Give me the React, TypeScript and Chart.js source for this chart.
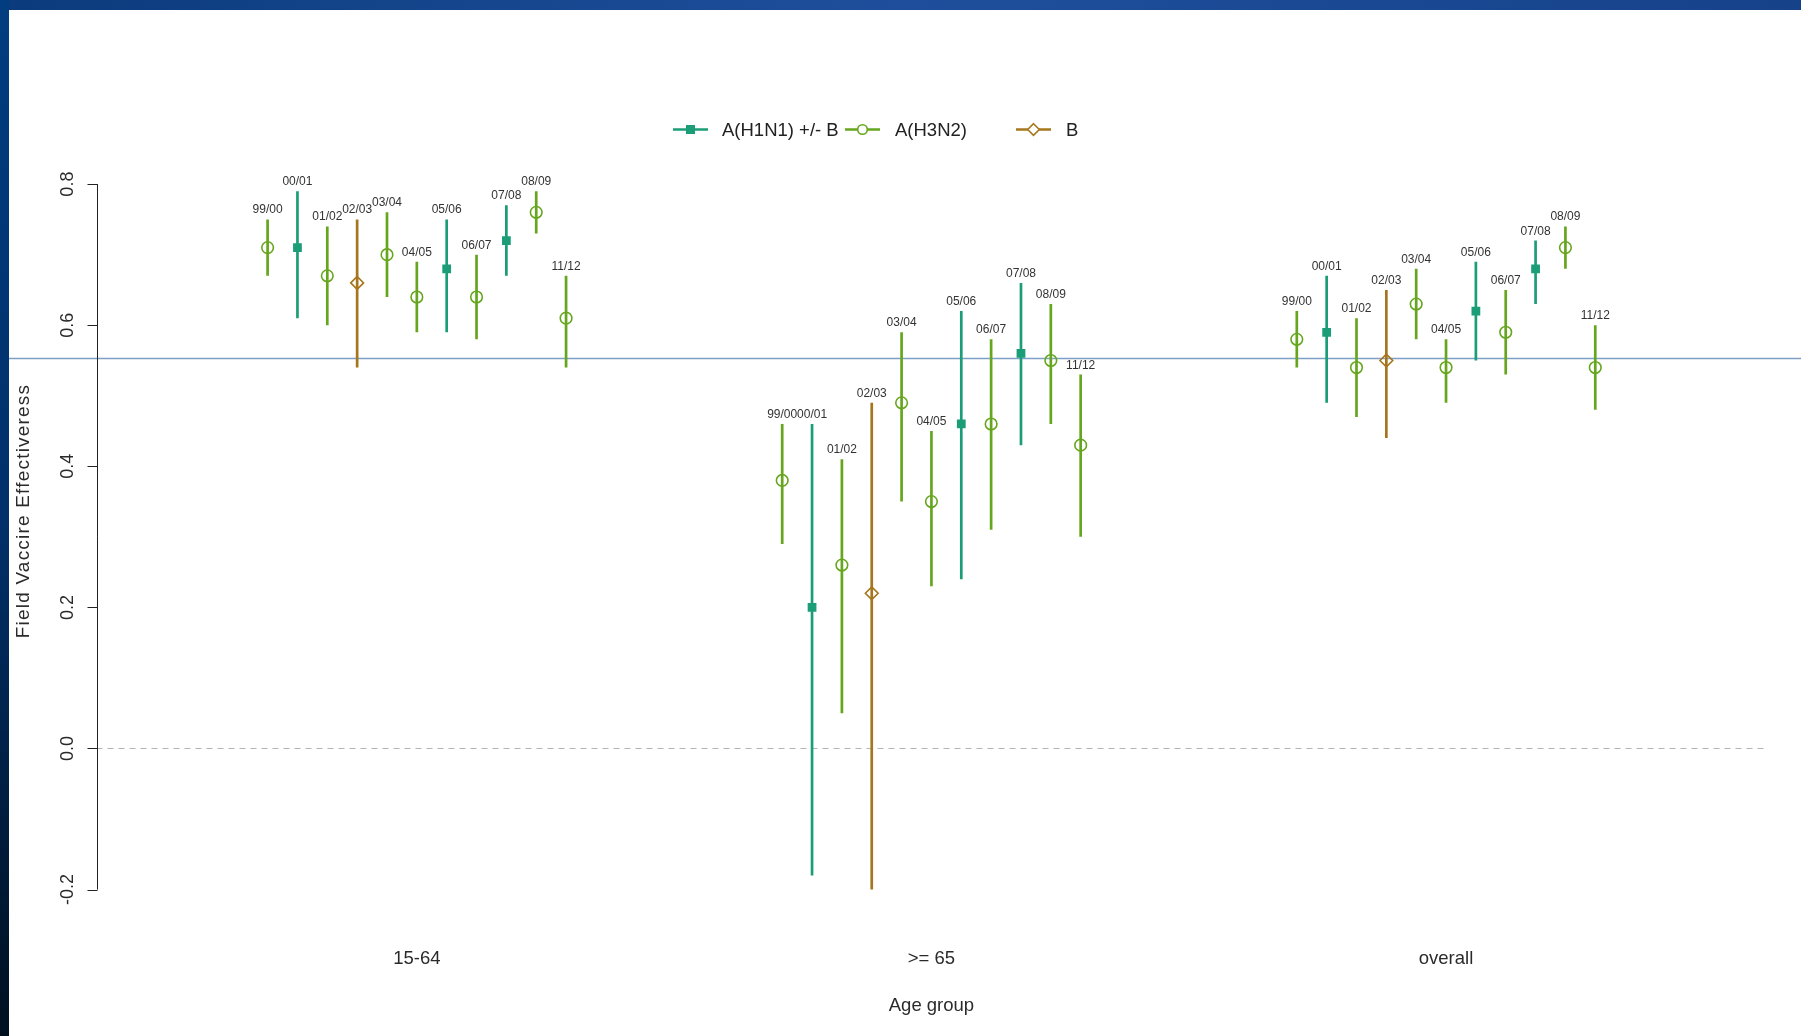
import React, { useEffect, useRef } from 'react';
import { Chart, registerables } from 'chart.js';

Chart.register(...registerables);

// ---------- data ----------
const ageGroups = ['15-64', '>= 65', 'overall'];
const seasons = ['99/00', '00/01', '01/02', '02/03', '03/04', '04/05', '05/06', '06/07', '07/08', '08/09', '11/12'];
const seasonSubtype = ['H3N2', 'H1N1', 'H3N2', 'B', 'H3N2', 'H3N2', 'H1N1', 'H3N2', 'H1N1', 'H3N2', 'H3N2'];

const est15to64 = [0.71, 0.71, 0.67, 0.66, 0.70, 0.64, 0.68, 0.64, 0.72, 0.76, 0.61];
const lo15to64 = [0.67, 0.61, 0.60, 0.54, 0.64, 0.59, 0.59, 0.58, 0.67, 0.73, 0.54];
const hi15to64 = [0.75, 0.79, 0.74, 0.75, 0.76, 0.69, 0.75, 0.70, 0.77, 0.79, 0.67];

const est65plus = [0.38, 0.20, 0.26, 0.22, 0.49, 0.35, 0.46, 0.46, 0.56, 0.55, 0.43];
const lo65plus = [0.29, -0.18, 0.05, -0.20, 0.35, 0.23, 0.24, 0.31, 0.43, 0.46, 0.30];
const hi65plus = [0.46, 0.46, 0.41, 0.49, 0.59, 0.45, 0.62, 0.58, 0.66, 0.63, 0.53];

const estOverall = [0.58, 0.59, 0.54, 0.55, 0.63, 0.54, 0.62, 0.59, 0.68, 0.71, 0.54];
const loOverall = [0.54, 0.49, 0.47, 0.44, 0.58, 0.49, 0.55, 0.53, 0.63, 0.68, 0.48];
const hiOverall = [0.62, 0.67, 0.61, 0.65, 0.68, 0.58, 0.69, 0.65, 0.72, 0.74, 0.60];

const subtypeKeys = ['H1N1', 'H3N2', 'B'];
const subtypeNames = ['A(H1N1) +/- B', 'A(H3N2)', 'B'];
const subtypeColors = ['#1B9E77', '#66A61E', '#A6761D'];

const yTicks = [-0.2, 0.0, 0.2, 0.4, 0.6, 0.8];
const referenceLevel = 0.553;

const yTitle = 'Field Vaccire Effectiveress';
const xTitle = 'Age group';

// ---------- helpers ----------
const estimates = [est15to64, est65plus, estOverall];
const lows = [lo15to64, lo65plus, loOverall];
const highs = [hi15to64, hi65plus, hiOverall];
const seasonStep = 0.058;

const FONT = '"Liberation Sans", Arial, Helvetica, sans-serif';

type Pt = { x: number; y: number | null };

function buildDatasets() {
  const markers: any[] = [];
  const whiskers: any[] = [];
  subtypeKeys.forEach((key, si) => {
    const pts: Pt[] = [];
    const seg: Pt[] = [];
    ageGroups.forEach((_, gi) => {
      seasons.forEach((s, k) => {
        if (seasonSubtype[k] !== key) return;
        const x = gi + (k - 5) * seasonStep;
        pts.push({ x, y: estimates[gi][k] });
        seg.push({ x, y: lows[gi][k] });
        seg.push({ x, y: highs[gi][k] });
        seg.push({ x, y: null });
      });
    });
    const style = key === 'H1N1' ? 'rect' : key === 'H3N2' ? 'circle' : 'rectRot';
    markers.push({
      type: 'scatter',
      label: subtypeNames[si],
      data: pts,
      order: 0,
      pointStyle: style,
      pointRadius: key === 'H1N1' ? 6.2 : key === 'H3N2' ? 5.8 : 6.4,
      pointBorderWidth: key === 'H1N1' ? 0 : 1.6,
      pointBackgroundColor: key === 'H1N1' ? subtypeColors[si] : 'rgba(255,255,255,0)',
      pointBorderColor: subtypeColors[si],
      showLine: false,
    });
    whiskers.push({
      type: 'line',
      label: subtypeNames[si] + ' CI',
      data: seg,
      order: 1,
      borderColor: subtypeColors[si],
      borderWidth: 2.7,
      pointRadius: 0,
      spanGaps: false,
      fill: false,
    });
  });
  return [...markers, ...whiskers];
}

const decorPlugin = {
  id: 'decor',
  beforeDraw(chart: any) {
    const { ctx, width, height } = chart;
    ctx.save();
    const top = ctx.createLinearGradient(0, 0, width, 0);
    top.addColorStop(0, '#0b3b7c');
    top.addColorStop(0.5, '#1f4f9c');
    top.addColorStop(1, '#16428a');
    ctx.fillStyle = top;
    ctx.fillRect(0, 0, width, 10);
    const left = ctx.createLinearGradient(0, 0, 0, height);
    left.addColorStop(0, '#013d80');
    left.addColorStop(0.5, '#01306a');
    left.addColorStop(1, '#00101f');
    ctx.fillStyle = left;
    ctx.fillRect(0, 0, 9, height);
    ctx.fillStyle = '#ffffff';
    ctx.fillRect(9, 10, width - 9, height - 10);
    ctx.restore();
  },
  beforeDatasetsDraw(chart: any) {
    const { ctx, chartArea, width } = chart;
    const xs = chart.scales.x;
    const ys = chart.scales.y;
    ctx.save();
    // zero dashed line
    ctx.strokeStyle = '#b4b4b4';
    ctx.lineWidth = 1;
    ctx.setLineDash([6, 5]);
    const y0 = Math.round(ys.getPixelForValue(0)) + 0.5;
    ctx.beginPath();
    ctx.moveTo(chartArea.left, y0);
    ctx.lineTo(chartArea.right, y0);
    ctx.stroke();
    ctx.setLineDash([]);
    // reference line
    const yr = Math.round(ys.getPixelForValue(referenceLevel)) + 0.5;
    ctx.strokeStyle = '#7f9ec6';
    ctx.lineWidth = 1.3;
    ctx.beginPath();
    ctx.moveTo(9, yr);
    ctx.lineTo(width, yr);
    ctx.stroke();
    // y axis
    const ax = Math.round(chartArea.left) + 0.5;
    ctx.strokeStyle = '#222';
    ctx.lineWidth = 1;
    ctx.beginPath();
    ctx.moveTo(ax, ys.getPixelForValue(yTicks[yTicks.length - 1]));
    ctx.lineTo(ax, ys.getPixelForValue(yTicks[0]));
    yTicks.forEach((t) => {
      const py = Math.round(ys.getPixelForValue(t)) + 0.5;
      ctx.moveTo(ax, py);
      ctx.lineTo(ax - 10, py);
    });
    ctx.stroke();
    ctx.fillStyle = '#2a2a2a';
    ctx.font = `18px ${FONT}`;
    ctx.textAlign = 'center';
    ctx.textBaseline = 'middle';
    yTicks.forEach((t) => {
      const py = ys.getPixelForValue(t);
      ctx.save();
      ctx.translate(68.5, py);
      ctx.rotate(-Math.PI / 2);
      ctx.fillText(t.toFixed(1), 0, 0);
      ctx.restore();
    });
    // y title
    ctx.save();
    ctx.font = `19px ${FONT}`;
    (ctx as any).letterSpacing = '1.2px';
    ctx.translate(24, 511);
    ctx.rotate(-Math.PI / 2);
    ctx.fillText(yTitle, 0, 0);
    ctx.restore();
    // x category labels
    ctx.font = `18.5px ${FONT}`;
    ageGroups.forEach((g, gi) => {
      ctx.fillText(g, xs.getPixelForValue(gi), 959);
    });
    ctx.fillText(xTitle, xs.getPixelForValue(1), 1006);
    ctx.restore();
  },
  afterDatasetsDraw(chart: any) {
    const { ctx } = chart;
    const xs = chart.scales.x;
    const ys = chart.scales.y;
    ctx.save();
    ctx.fillStyle = '#333';
    ctx.font = `12px ${FONT}`;
    ctx.textAlign = 'center';
    ctx.textBaseline = 'alphabetic';
    ageGroups.forEach((_, gi) => {
      seasons.forEach((s, k) => {
        const px = xs.getPixelForValue(gi + (k - 5) * seasonStep);
        const py = ys.getPixelForValue(highs[gi][k]);
        ctx.fillText(s, px, py - 6);
      });
    });
    // legend
    const legendY = 129.5;
    const items = [
      { lx: 673, tx: 722 },
      { lx: 845, tx: 895 },
      { lx: 1016, tx: 1066 },
    ];
    ctx.font = `18.5px ${FONT}`;
    ctx.textAlign = 'left';
    ctx.textBaseline = 'middle';
    items.forEach((it, i) => {
      const col = subtypeColors[i];
      ctx.strokeStyle = col;
      ctx.lineWidth = 2.7;
      ctx.beginPath();
      ctx.moveTo(it.lx, legendY);
      ctx.lineTo(it.lx + 35, legendY);
      ctx.stroke();
      const cx = it.lx + 17.5;
      if (i === 0) {
        ctx.fillStyle = col;
        ctx.fillRect(cx - 4.5, legendY - 4.5, 9, 9);
      } else if (i === 1) {
        ctx.fillStyle = '#fff';
        ctx.lineWidth = 1.6;
        ctx.beginPath();
        ctx.arc(cx, legendY, 4.8, 0, Math.PI * 2);
        ctx.fill();
        ctx.stroke();
      } else {
        ctx.fillStyle = '#fff';
        ctx.lineWidth = 1.6;
        ctx.beginPath();
        ctx.moveTo(cx, legendY - 5.8);
        ctx.lineTo(cx + 5.8, legendY);
        ctx.lineTo(cx, legendY + 5.8);
        ctx.lineTo(cx - 5.8, legendY);
        ctx.closePath();
        ctx.fill();
        ctx.stroke();
      }
      ctx.fillStyle = '#222';
      ctx.fillText(subtypeNames[i], it.tx, legendY + 1);
    });
    ctx.restore();
  },
};

export default function App() {
  const ref = useRef<HTMLCanvasElement | null>(null);
  useEffect(() => {
    if (!ref.current) return;
    const chart = new Chart(ref.current, {
      type: 'scatter',
      data: { datasets: buildDatasets() as any },
      options: {
        responsive: false,
        animation: false,
        devicePixelRatio: 1,
        layout: { padding: { left: 96.5, right: 37.2, top: 155.9, bottom: 118.2 } },
        scales: {
          x: { type: 'linear', min: -0.6225, max: 2.6175, display: false },
          y: { type: 'linear', min: -0.24, max: 0.84, display: false },
        },
        plugins: {
          legend: { display: false },
          tooltip: { enabled: false },
        },
      } as any,
      plugins: [decorPlugin as any],
    });
    return () => chart.destroy();
  }, []);
  return (
    <div style={{ position: 'fixed', left: 0, top: 0, width: 1801, height: 1036, overflow: 'hidden' }}>
      <canvas ref={ref} width={1801} height={1036} style={{ display: 'block' }} />
    </div>
  );
}
